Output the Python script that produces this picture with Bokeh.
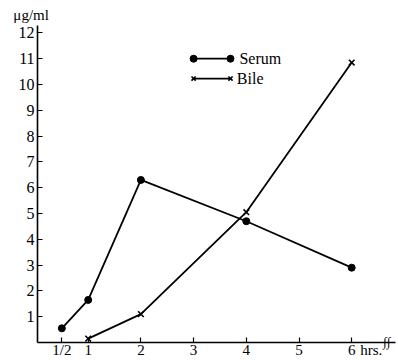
from bokeh.plotting import figure
from bokeh.models import Range1d, FixedTicker, Label
from bokeh.embed import file_html
from bokeh.resources import INLINE

# data
hours_serum = [0.5, 1, 2, 4, 6]
serum = [0.55, 1.65, 6.3, 4.7, 2.9]
hours_bile = [1, 2, 4, 6]
bile = [0.15, 1.1, 5.05, 10.85]
x_ticks = [0.5, 1, 2, 3, 4, 5, 6]
x_labels = {0.5: "1/2"}
y_ticks = list(range(1, 13))

FONT = "Liberation Serif, DejaVu Serif, serif"

p = figure(width=398, height=360, output_backend="svg", toolbar_location=None,
           x_range=Range1d(-0.664, 6.888), y_range=Range1d(-0.698, 13.256),
           min_border=0)
p.title.visible = False
p.outline_line_color = None
p.xgrid.visible = False
p.ygrid.visible = False
p.background_fill_color = "white"
p.border_fill_color = "white"

for ax in (p.xaxis[0], p.yaxis[0]):
    ax.axis_line_width = 1.6
    ax.axis_line_color = "black"
    ax.major_tick_in = 5
    ax.major_tick_out = 0
    ax.minor_tick_line_color = None
    ax.major_tick_line_color = "black"
    ax.major_tick_line_width = 1.2
    ax.major_label_text_font = FONT
    ax.major_label_text_font_size = "16px"
    ax.major_label_text_color = "black"

p.xaxis.fixed_location = 0
p.xaxis.bounds = (0.04, 6.83)
p.xaxis.ticker = FixedTicker(ticks=x_ticks)
p.xaxis.major_label_overrides = x_labels
p.xaxis.major_label_standoff = 0
p.xaxis.major_label_text_font_size = "15px"
p.yaxis.fixed_location = 0.04
p.yaxis.bounds = (0, 12.3)
p.yaxis.ticker = FixedTicker(ticks=y_ticks)
p.yaxis.major_label_standoff = 3

# series
p.line(hours_serum, serum, line_color="black", line_width=1.8)
p.scatter(hours_serum, serum, marker="circle", size=7, color="black")
p.line(hours_bile, bile, line_color="black", line_width=1.8)
p.scatter(hours_bile, bile, marker="x", size=8, line_color="black", line_width=1.6)

# manual legend
leg_x = [3.0, 3.7]
p.line(leg_x, [11.0, 11.0], line_color="black", line_width=1.8)
p.scatter(leg_x, [11.0, 11.0], marker="circle", size=7, color="black")
p.line(leg_x, [10.23, 10.23], line_color="black", line_width=1.8)
p.scatter(leg_x, [10.23, 10.23], marker="x", size=6, line_color="black", line_width=1.6)
p.add_layout(Label(x=3.87, y=11.0, text="Serum", text_font=FONT, text_font_size="16px",
                   text_baseline="middle", text_color="black"))
p.add_layout(Label(x=3.82, y=10.23, text="Bile", text_font=FONT, text_font_size="16px",
                   text_baseline="middle", text_color="black"))

# axis texts
p.add_layout(Label(x=6.16, y=-0.28, text="hrs.", text_font=FONT, text_font_size="15px",
                   text_baseline="middle", text_color="black"))
p.add_layout(Label(x=-0.42, y=12.7, text="\u03bcg/ml", text_font=FONT, text_font_size="15px",
                   text_baseline="middle", text_color="black"))
p.add_layout(Label(x=6.6, y=0.02, text="\u222b\u222b", text_font=FONT,
                   text_font_size="13px", text_baseline="middle", text_color="black",
                   text_font_style="italic"))

open("out.html", "w").write(file_html(p, INLINE))
